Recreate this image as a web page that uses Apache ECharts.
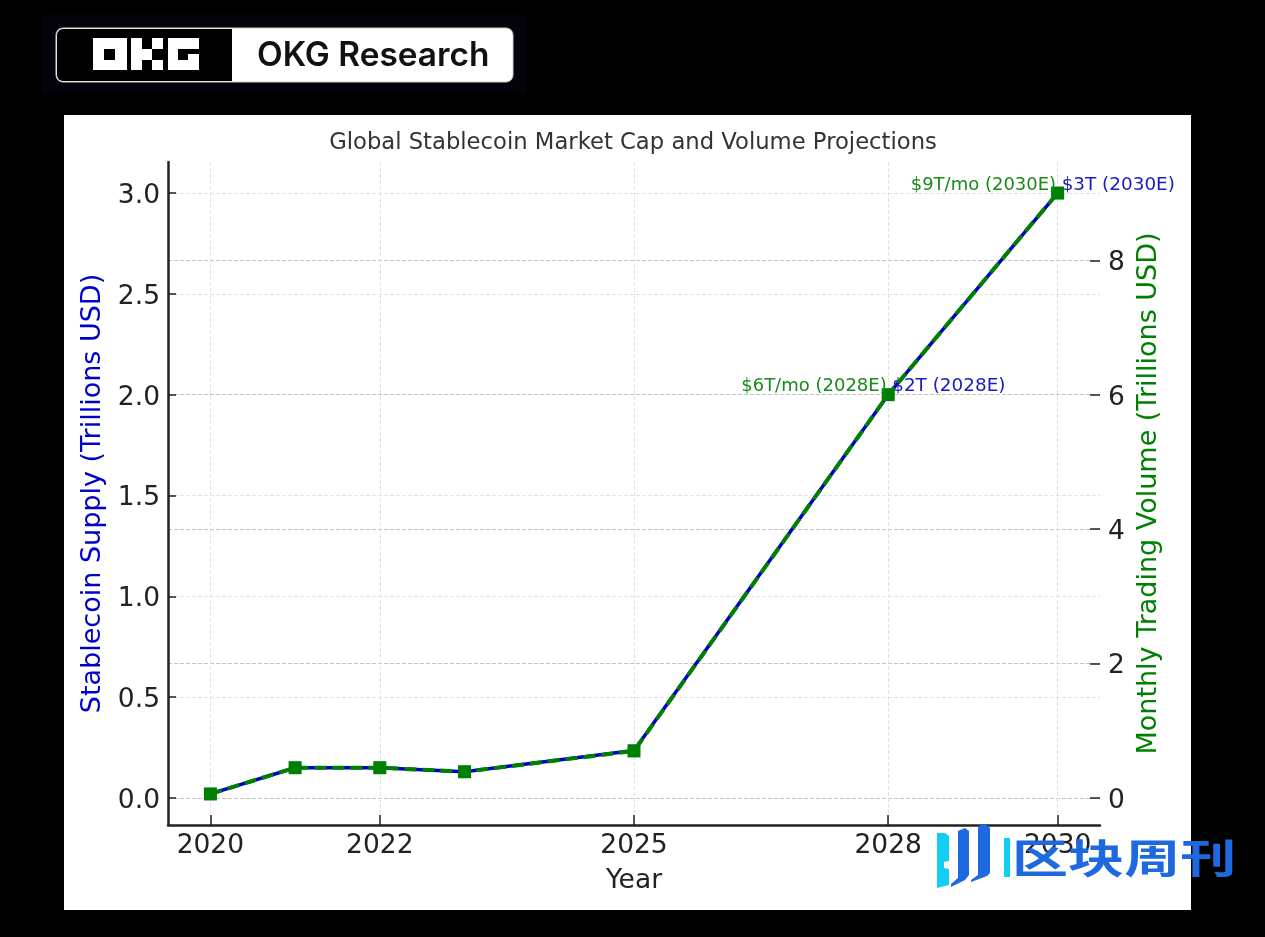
<!DOCTYPE html>
<html>
<head>
<meta charset="utf-8">
<style>
html,body{margin:0;padding:0;background:#000;}
#main{width:1265px;height:937px;}
</style>
<script src="https://cdn.jsdelivr.net/npm/echarts@6/dist/echarts.min.js"></script>
</head>
<body>
<div id="main"></div>
<script>
var years = [2020, 2021, 2022, 2023, 2025, 2028, 2030];
var supply = [0.02, 0.15, 0.15, 0.13, 0.235, 2, 3];
var volume = [0.06, 0.45, 0.45, 0.39, 0.7, 6, 9];
var xTicks = [2020, 2022, 2025, 2028, 2030];
var leftTicks = [0, 0.5, 1, 1.5, 2, 2.5, 3];
var rightTicks = [0, 2, 4, 6, 8];
var supplyNotes = {2028: '$2T (2028E)', 2030: '$3T (2030E)'};
var volumeNotes = {2028: '$6T/mo (2028E)', 2030: '$9T/mo (2030E)'};

var FONT = '"DejaVu Sans"';
var BLUE = '#0000cc';
var GREEN = '#008000';

function points(values, notes, pos, color, dx, size) {
  return values.map(function (v, i) {
    var item = {value: [years[i], v]};
    if (notes[years[i]]) {
      item.label = {
        show: true, formatter: notes[years[i]], position: pos,
        offset: [dx, -8], color: color, fontSize: size, fontFamily: FONT
      };
    }
    return item;
  });
}

function rect(x, y, w, h, fill, z) {
  return {type: 'rect', z: z, shape: {x: x, y: y, width: w, height: h}, style: {fill: fill}};
}

function poly(pts, fill) {
  return {type: 'polygon', z: 200, shape: {points: pts}, style: {fill: fill}};
}

// y tick labels sit a little low in the original, rich text lets us pad them down
var tickRich = {n: {color: '#222', fontSize: 26.5, fontFamily: FONT, padding: [6, 0, 0, 0]}};

var graphics = [
  rect(42, 15, 484, 78, '#03030c', -2),
  rect(64, 115, 1127, 795, '#fff', -2),
  {type: 'rect', z: 2, shape: {x: 56, y: 28, width: 457, height: 54, r: 7}, style: {fill: '#fff', stroke: '#ccc', lineWidth: 1}},
  {type: 'rect', z: 3, shape: {x: 57, y: 29, width: 175, height: 52, r: [6, 0, 0, 6]}, style: {fill: '#000'}},
  // OKG mark
  rect(93, 38, 34, 32, '#fff', 4), rect(104, 49, 11, 11, '#000', 4),
  rect(131, 38, 11, 32, '#fff', 4), rect(142, 49, 10, 11, '#fff', 4),
  rect(152, 38, 11, 11, '#fff', 4), rect(152, 60, 11, 10, '#fff', 4),
  rect(168, 38, 31, 32, '#fff', 4), rect(178, 49, 21, 5, '#000', 4), rect(178, 54, 10, 6, '#000', 4),
  {type: 'text', z: 4, style: {x: 257, y: 56, text: 'OKG Research', fill: '#111', font: '600 33.4px Inter', textVerticalAlign: 'middle'}},
  // watermark
  poly([[937, 833], [945, 833], [949, 836], [949, 861], [944, 862], [944, 868], [949, 869], [949, 885], [937, 888]], '#14cdf5'),
  poly([[958, 831], [965, 828], [969, 831], [969, 875], [965, 880], [951, 887], [951, 884], [958, 878]], '#1e69e0'),
  poly([[978, 826], [985, 824], [990, 828], [990, 873], [987, 876], [971, 882], [971, 880], [978, 875]], '#1e69e0'),
  rect(1004, 838, 6, 39, '#14cdf5', 200),
  {type: 'text', z: 200, originX: 1012, originY: 858, scaleY: 0.72, scaleX: 1.02,
    style: {x: 1012, y: 858, text: '区块周刊', fill: '#1e69e0', font: 'bold 55px "Noto Sans CJK SC"', textVerticalAlign: 'middle'}}
];

var chart = echarts.init(document.getElementById('main'));
chart.setOption({
  animation: false,
  backgroundColor: '#000',
  title: {
    text: 'Global Stablecoin Market Cap and Volume Projections',
    left: 628, top: 127, textAlign: 'center',
    textStyle: {color: '#333', fontSize: 22.7, fontWeight: 'normal', fontFamily: FONT}
  },
  grid: {left: 168, right: 165, top: 162, bottom: 112},
  graphic: graphics,
  xAxis: {
    type: 'value', min: 2019.5, max: 2030.5,
    name: 'Year', nameLocation: 'middle', nameGap: 43,
    nameTextStyle: {color: '#222', fontSize: 26.5, fontFamily: FONT},
    axisLine: {onZero: false, lineStyle: {color: '#222', width: 2.5}},
    axisTick: {inside: true, length: 10, customValues: xTicks, lineStyle: {color: '#222', width: 1.5}},
    axisLabel: {customValues: xTicks, color: '#222', fontSize: 26.5, fontFamily: FONT, margin: 8, formatter: String, hideOverlap: false},
    splitLine: {show: true, lineStyle: {color: '#e2e2e2', type: 'dashed', width: 1}}
  },
  yAxis: [{
    type: 'value', min: -0.134, max: 3.154, position: 'left',
    name: 'Stablecoin Supply (Trillions USD)', nameLocation: 'middle', nameGap: 62, nameRotate: 90,
    nameTextStyle: {color: BLUE, fontSize: 27, fontFamily: FONT},
    axisLine: {show: true, onZero: false, lineStyle: {color: '#222', width: 2.5}},
    axisTick: {show: true, inside: true, length: 8, customValues: leftTicks, lineStyle: {color: '#222', width: 1.5}},
    axisLabel: {customValues: leftTicks, margin: 8, rich: tickRich, formatter: function (v) { return '{n|' + v.toFixed(1) + '}'; }},
    splitLine: {show: true, lineStyle: {color: '#e2e2e2', type: 'dashed', width: 1}}
  }, {
    type: 'value', min: -0.402, max: 9.462, position: 'right',
    name: 'Monthly Trading Volume (Trillions USD)', nameLocation: 'middle', nameGap: 31, nameRotate: 90,
    nameTextStyle: {color: GREEN, fontSize: 27, fontFamily: FONT},
    axisLine: {show: false},
    axisTick: {show: true, inside: true, length: 10, customValues: rightTicks, lineStyle: {color: '#222', width: 1.5}},
    axisLabel: {customValues: rightTicks, margin: 8, rich: tickRich, formatter: function (v) { return '{n|' + v + '}'; }},
    splitLine: {show: true, lineStyle: {color: '#c4c4c4', type: 'dashed', width: 1}}
  }],
  series: [{
    name: 'Stablecoin Supply', type: 'line', yAxisIndex: 0, z: 3,
    data: points(supply, supplyNotes, 'right', '#1a1ac0', -7, 18.4),
    symbol: 'rect', symbolSize: 12,
    lineStyle: {color: BLUE, width: 3.5}, itemStyle: {color: BLUE}
  }, {
    name: 'Monthly Trading Volume', type: 'line', yAxisIndex: 1, z: 4,
    data: points(volume, volumeNotes, 'left', '#1a8a1a', 10, 18),
    symbol: 'rect', symbolSize: 13,
    lineStyle: {color: GREEN, width: 4, type: [12, 6]}, itemStyle: {color: GREEN}
  }]
});
</script>
</body>
</html>
